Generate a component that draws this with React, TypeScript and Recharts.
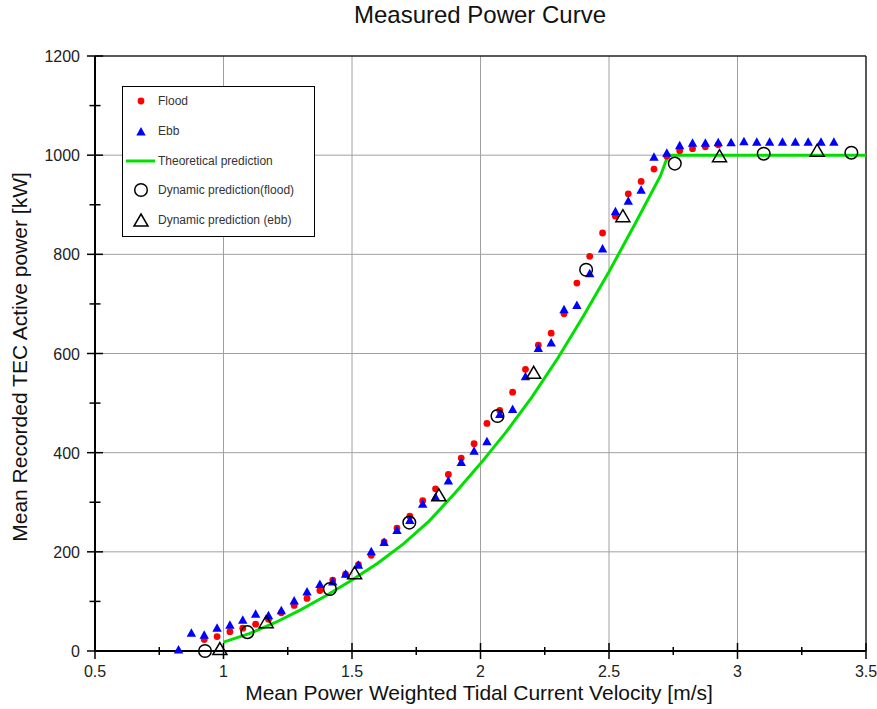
import { ComposedChart, Line, Scatter, XAxis, YAxis, CartesianGrid, ReferenceLine, Legend, Label } from "recharts"

// axis ticks (minor + major)
const xTicks = [0.5, 0.75, 1, 1.25, 1.5, 1.75, 2, 2.25, 2.5, 2.75, 3, 3.25, 3.5]
const xMajor = [0.5, 1, 1.5, 2, 2.5, 3, 3.5]
const yTicks = [0, 100, 200, 300, 400, 500, 600, 700, 800, 900, 1000, 1100, 1200]
const yMajor = [0, 200, 400, 600, 800, 1000, 1200]

// [velocity m/s, power kW]
const flood: [number, number][] = [
  [0.925, 23], [0.975, 29], [1.025, 39], [1.075, 46], [1.125, 54], [1.175, 64],
  [1.225, 77], [1.275, 92], [1.325, 106], [1.375, 122], [1.425, 143], [1.475, 155],
  [1.525, 174], [1.575, 193], [1.625, 220], [1.675, 248], [1.725, 272], [1.775, 303],
  [1.825, 327], [1.875, 356], [1.925, 389], [1.975, 418], [2.025, 459], [2.075, 485],
  [2.125, 522], [2.175, 568], [2.225, 617], [2.275, 641], [2.325, 680], [2.375, 742],
  [2.425, 796], [2.475, 843], [2.525, 877], [2.575, 922], [2.625, 947], [2.675, 972],
  [2.725, 998], [2.775, 1009], [2.825, 1013], [2.875, 1017], [2.925, 1021],
]

const ebb: [number, number][] = [
  [0.825, 2], [0.875, 36], [0.925, 32], [0.975, 46], [1.025, 52], [1.075, 62],
  [1.125, 74], [1.175, 71], [1.225, 81], [1.275, 101], [1.325, 119], [1.375, 134],
  [1.425, 139], [1.475, 155], [1.525, 173], [1.575, 200], [1.625, 219], [1.675, 243],
  [1.725, 263], [1.775, 296], [1.825, 310], [1.875, 343], [1.925, 380], [1.975, 403],
  [2.025, 422], [2.075, 477], [2.125, 487], [2.175, 553], [2.225, 610], [2.275, 621],
  [2.325, 688], [2.375, 697], [2.425, 761], [2.475, 811], [2.525, 886], [2.575, 907],
  [2.625, 929], [2.675, 996], [2.725, 1004], [2.775, 1019], [2.825, 1024], [2.875, 1024],
  [2.925, 1025], [2.975, 1025], [3.025, 1027], [3.075, 1026], [3.125, 1026], [3.175, 1026],
  [3.225, 1026], [3.275, 1026], [3.325, 1026], [3.375, 1026],
]

const theory: [number, number][] = [
  [1.0, 18], [1.1, 35], [1.2, 57], [1.3, 83], [1.4, 112], [1.5, 143], [1.6, 177],
  [1.7, 216], [1.8, 262], [1.9, 318], [2.0, 378], [2.1, 442], [2.2, 512], [2.3, 590],
  [2.4, 675], [2.5, 765], [2.6, 860], [2.7, 958], [2.73, 1000], [3.5, 1000],
]

const dynFlood: [number, number][] = [
  [0.928, 0], [1.093, 38], [1.414, 125], [1.723, 259], [2.066, 474],
  [2.411, 769], [2.756, 983], [3.102, 1003], [3.443, 1005],
]

const dynEbb: [number, number][] = [
  [0.986, 3], [1.166, 57], [1.51, 156], [1.838, 313], [2.207, 560],
  [2.554, 876], [2.93, 997], [3.31, 1008],
]

const toPts = (arr: [number, number][]) => arr.map(([v, p]) => ({ v, p }))

const GREEN = "#00e000"
const FONT = "'Liberation Sans', Arial, sans-serif"

const redDot = (cx: number, cy: number) => <circle cx={cx} cy={cy} r={3.4} fill="#ff0000" />
const blueTri = (cx: number, cy: number) => (
  <path d={`M${cx},${cy - 5} L${cx + 4.7},${cy + 3.5} L${cx - 4.7},${cy + 3.5} Z`} fill="#0000ff" />
)
const openCircle = (cx: number, cy: number) => (
  <circle cx={cx} cy={cy} r={6.3} fill="none" stroke="#000" strokeWidth={1.5} />
)
const openTri = (cx: number, cy: number) => (
  <path d={`M${cx},${cy - 7} L${cx + 7},${cy + 5} L${cx - 7},${cy + 5} Z`} fill="none" stroke="#000" strokeWidth={1.5} />
)

function XTick(props: any) {
  const { x, y, payload } = props
  const major = xMajor.includes(payload.value)
  const s = major ? 8 : 4
  return (
    <g>
      <line x1={x} x2={x} y1={y - s} y2={y + s} stroke="#000" strokeWidth={1.5} />
      {major && (
        <text x={x} y={y + 26} textAnchor="middle" fontSize={16} fill="#222" fontFamily={FONT}>
          {String(payload.value)}
        </text>
      )}
    </g>
  )
}

function YTick(props: any) {
  const { x, y, payload } = props
  const major = yMajor.includes(payload.value)
  const s = major ? 8 : 5.5
  return (
    <g>
      <line x1={x - s} x2={x + s} y1={y} y2={y} stroke="#000" strokeWidth={1.5} />
      {major && (
        <text x={x - 15} y={y + 6} textAnchor="end" fontSize={16} fill="#222" fontFamily={FONT}>
          {String(payload.value)}
        </text>
      )}
    </g>
  )
}

const legendItems = [
  { label: "Flood", icon: redDot(18, 8) },
  { label: "Ebb", icon: blueTri(18, 9) },
  { label: "Theoretical prediction", icon: <line x1={3} x2={32} y1={8} y2={8} stroke={GREEN} strokeWidth={3} /> },
  { label: "Dynamic prediction(flood)", icon: openCircle(18, 8) },
  { label: "Dynamic prediction (ebb)", icon: openTri(18, 9) },
]

function LegendBox() {
  return (
    <div
      style={{
        width: 193, height: 151, boxSizing: "border-box", border: "1.5px solid #000",
        background: "#fff", position: "relative", fontFamily: FONT, fontSize: 12, color: "#333",
      }}
    >
      {legendItems.map((it, i) => (
        <div
          key={it.label}
          style={{ position: "absolute", left: 0, top: 6 + i * 29.8, height: 16, display: "flex", alignItems: "center", whiteSpace: "nowrap" }}
        >
          <svg width={35} height={16} style={{ display: "block" }}>{it.icon}</svg>
          <span>{it.label}</span>
        </div>
      ))}
    </div>
  )
}

export default function App() {
  return (
    <div style={{ position: "absolute", left: 0, top: 0, width: 877, height: 709, background: "#fff", fontFamily: FONT }}>
      <div style={{ position: "absolute", left: 280, top: 3, width: 400, textAlign: "center", fontSize: 24, lineHeight: "24px", color: "#111" }}>
        Measured Power Curve
      </div>
      <ComposedChart width={877} height={709} margin={{ top: 56, right: 11, bottom: 28, left: 45 }}>
        <CartesianGrid
          stroke="#a0a0a0"
          strokeWidth={1}
          verticalValues={[1, 1.5, 2, 2.5, 3]}
          horizontalValues={[200, 400, 600, 800, 1000]}
        />
        <XAxis
          type="number"
          dataKey="v"
          domain={[0.5, 3.5]}
          ticks={xTicks}
          interval={0}
          height={30}
          tickSize={0}
          tickMargin={0}
          tickLine={false}
          tick={<XTick />}
          axisLine={{ stroke: "#000", strokeWidth: 2 }}
        >
          <Label
            content={() => (
              <text x={479} y={700} textAnchor="middle" fontSize={21} fill="#111" fontFamily={FONT}>
                Mean Power Weighted Tidal Current Velocity [m/s]
              </text>
            )}
          />
        </XAxis>
        <YAxis
          type="number"
          dataKey="p"
          domain={[0, 1200]}
          ticks={yTicks}
          interval={0}
          width={50}
          tickSize={0}
          tickMargin={0}
          tickLine={false}
          tick={<YTick />}
          axisLine={{ stroke: "#000", strokeWidth: 2 }}
        >
          <Label
            content={() => (
              <text x={27} y={357} transform="rotate(-90 27 357)" textAnchor="middle" fontSize={21} fill="#111" fontFamily={FONT}>
                Mean Recorded TEC Active power [kW]
              </text>
            )}
          />
        </YAxis>
        <ReferenceLine y={1200} stroke="#222" strokeWidth={1.5} />
        <ReferenceLine x={3.5} stroke="#222" strokeWidth={1.5} />
        <Line
          data={toPts(theory)}
          dataKey="p"
          type="linear"
          stroke={GREEN}
          strokeWidth={3}
          dot={false}
          activeDot={false}
          isAnimationActive={false}
        />
        <Scatter data={toPts(flood)} dataKey="p" shape={(p: any) => redDot(p.cx, p.cy)} isAnimationActive={false} />
        <Scatter data={toPts(ebb)} dataKey="p" shape={(p: any) => blueTri(p.cx, p.cy)} isAnimationActive={false} />
        <Scatter data={toPts(dynFlood)} dataKey="p" shape={(p: any) => openCircle(p.cx, p.cy)} isAnimationActive={false} />
        <Scatter data={toPts(dynEbb)} dataKey="p" shape={(p: any) => openTri(p.cx, p.cy)} isAnimationActive={false} />
        <Legend
          layout="vertical"
          align="center"
          verticalAlign="middle"
          wrapperStyle={{ left: 122, top: 86, width: 193 }}
          content={() => <LegendBox />}
        />
      </ComposedChart>
    </div>
  )
}
